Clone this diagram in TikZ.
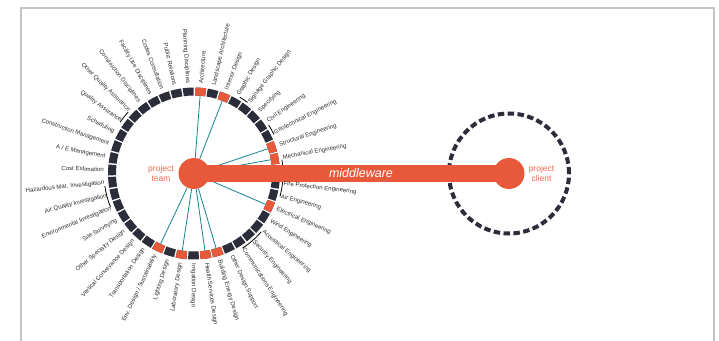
\documentclass[tikz,border=0pt]{standalone}
\usepackage{fontspec}
\setmainfont{Liberation Sans}
\definecolor{navy}{HTML}{2B2D3B}
\definecolor{accent}{HTML}{E8593C}
\definecolor{accentlt}{HTML}{F06A4E}
\definecolor{tealc}{HTML}{17838F}
\definecolor{lblc}{HTML}{2E2E2E}
\definecolor{framec}{HTML}{C4C4C4}
\begin{document}
\begin{tikzpicture}[x=1pt,y=1pt,
  lbl/.style={font=\fontsize{6.05}{6.5}\selectfont, text=lblc, inner sep=0pt},
  spoke/.style={draw=tealc, line width=0.8pt},
  brk/.style={draw=black, line width=0.8pt},
  hub/.style={circle, fill=accent, minimum size=31pt, inner sep=0pt},
  ]
\useasboundingbox (-194,-166.5) rectangle (525,173.5);
\draw[framec, line width=1.2pt] (-173,-167) -- (-173,165.5) -- (520,165.5) -- (520,-167);

\def\segstep{8.372093}
% ring segments
\foreach \i in {0,...,42}{
  \pgfmathsetmacro\a{85.5-\i*\segstep}
  \pgfmathsetmacro\aa{\a-3.65}
  \pgfmathsetmacro\ab{\a+3.65}
  \coordinate (seg\i) at (\a:78);
  \fill[navy] (\aa:78) arc[start angle=\aa, end angle=\ab, radius=78] -- (\ab:86) arc[start angle=\ab, end angle=\aa, radius=86] -- cycle;
}
\foreach \i in {0,2,8,9,13,19,20,22,24}{
  \pgfmathsetmacro\a{85.5-\i*\segstep}
  \pgfmathsetmacro\aa{\a-3.65}
  \pgfmathsetmacro\ab{\a+3.65}
  \fill[accent] (\aa:78) arc[start angle=\aa, end angle=\ab, radius=78] -- (\ab:86) arc[start angle=\ab, end angle=\aa, radius=86] -- cycle;
}

% group brackets
\draw[brk] (53:89) arc[start angle=53, end angle=59, radius=89];
\draw[brk] (26:89) arc[start angle=26, end angle=33, radius=89];
\draw[brk] (-15:89) arc[start angle=-15, end angle=9, radius=89];
\draw[brk] (-57:89) arc[start angle=-57, end angle=-41, radius=89];
\draw[brk] (188:90) arc[start angle=188, end angle=202, radius=90];
\draw[brk] (137:90) arc[start angle=137, end angle=145, radius=90];

% hubs
\node[hub] (team) at (0,0) {};
\node[hub] (client) at (315,0) {};
\node[circle, draw=navy, line width=4pt, dash pattern=on 6.5pt off 3.4pt, minimum size=120pt, inner sep=0pt] (clientring) at (client.center) {};

% spokes
\foreach \i in {0,2,8,9,13,19,20,22,24}{
  \draw[spoke] (seg\i) -- (team);
}

% middleware bar
\draw[accent, line width=17pt] (team.center) -- (client.center);
\node[font=\fontsize{12.5}{14}\selectfont\itshape, text=white] (mw) at (167,0) {middleware};
\node[align=center, font=\fontsize{8.5}{10}\selectfont, text=accentlt] (tlabel) at (-33,0) {project\\team};
\node[align=center, font=\fontsize{8.5}{10}\selectfont, text=accentlt] (clabel) at (347.5,0) {project\\client};

% labels, right half
\foreach \i/\t in {0/Architecture, 1/Landscape Architecture, 2/Interior Design, 3/Graphic Design, 4/Signage Graphic Design, 5/Specifying, 6/Civil Engineering, 7/Geotechnical Engineering, 8/Structural Engineering, 9/Mechanical Engineering, 11/Fire Protection Engineering, 12/Air Engineering, 13/Electrical Engineering, 14/Wind Engineering, 15/Acoustical Engineering, 16/Security Engineering, 17/Communications Engineering, 18/Other Design Support, 19/Building Energy Design, 20/Health Services Design, 21/Irrigation Design}{
  \pgfmathsetmacro\a{85.5-\i*\segstep}
  \node[lbl, anchor=west, rotate=\a] (lbl\i) at (\a:90) {\t};
}
% labels, left half
\foreach \i/\t in {22/Laboratory Design, 23/Lighting Design, 24/{Env. Design / Sustainability}, 25/Transportation Design, 26/Vertical Conveyance Design, 27/Other Specialty Design, 28/Site Surveying, 29/Environmental Investigation, 30/Air Quality Investigation, 31/Hazardous Mat. Investigation, 32/Cost Estimation, 33/{A / E Management}, 34/Construction Management, 35/Scheduling, 36/Quality Assurance, 37/Other Quality Assurance, 38/Construction Disciplines, 39/Facility Use Disciplines, 40/Codes Consultation, 41/Public Relations, 42/Planning Disciplines}{
  \pgfmathsetmacro\a{85.5-\i*\segstep}
  \node[lbl, anchor=east, rotate=\a+180] (lbl\i) at (\a:90) {\t};
}
\end{tikzpicture}
\end{document}
